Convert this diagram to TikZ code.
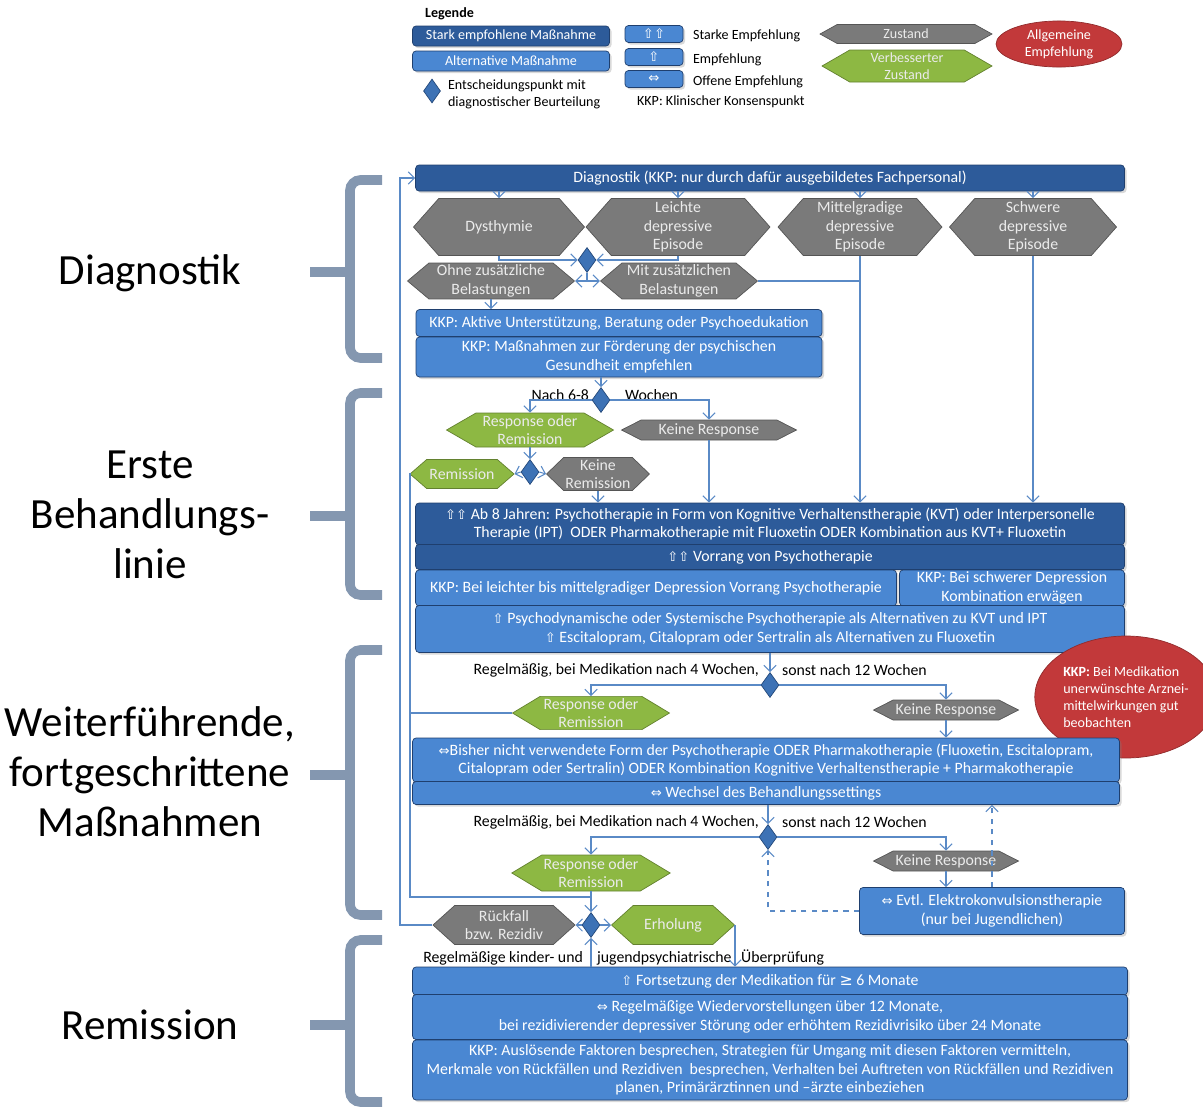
\documentclass[tikz,border=0pt]{standalone}
\usepackage{fontspec}
\setmainfont{Carlito}
\newfontfamily\symfont{DejaVu Sans}
\usetikzlibrary{shapes.geometric,shapes.symbols,arrows.meta,shadows}

\definecolor{boxdark}{HTML}{2D5B9A}
\definecolor{boxlight}{HTML}{4A87D2}
\definecolor{boxedge}{HTML}{1F3F6E}
\definecolor{stategray}{HTML}{7A7A7A}
\definecolor{stategreen}{HTML}{8DB843}
\definecolor{recred}{HTML}{C2393A}
\definecolor{decfill}{HTML}{3D72B5}
\definecolor{decedge}{HTML}{24497A}
\definecolor{flowline}{HTML}{5A8AC6}
\definecolor{bracecol}{HTML}{8497B0}

\newcommand{\boxfont}{\fontsize{9}{10.6}\selectfont}
\newcommand{\legfont}{\fontsize{8}{9.6}\selectfont}
\newcommand{\sidefont}{\fontsize{24.5}{28.4}\selectfont}
\newcommand{\symb}[1]{{\symfont\fontsize{7.5}{8}\selectfont #1}}

\tikzset{
  darkbox/.style={draw=boxedge, fill=boxdark, text=white, rounded corners=2pt,
    align=center, inner sep=1pt, font=\boxfont,
    drop shadow={opacity=0.3, shadow xshift=1.2pt, shadow yshift=-1.2pt}},
  lightbox/.style={darkbox, fill=boxlight},
  state/.style={shape=signal, signal to=west and east, signal pointer angle=90,
    draw=stategray!70!black, fill=stategray, text=white!92!black,
    align=center, inner sep=1pt, font=\boxfont},
  better/.style={state, draw=stategreen!70!black, fill=stategreen},
  recnote/.style={ellipse, draw=recred!75!black, fill=recred, text=white,
    inner sep=1pt, font=\legfont},
  decision/.style={diamond, draw=decedge, fill=decfill, inner sep=0pt,
    minimum width=0.36cm, minimum height=0.5cm},
  flow/.style={draw=flowline, line width=0.6pt, -{Straight Barb[length=3.5pt,width=7pt]}},
  plain/.style={draw=flowline, line width=0.6pt},
  note/.style={font=\boxfont, inner sep=1pt},
  legend/.style={font=\legfont},
  brace/.style={draw=bracecol, line width=5.5pt, rounded corners=6pt},
  side/.style={font=\sidefont, align=center}
}

\begin{document}
\begin{tikzpicture}[x=0.02cm, y=-0.02cm]
  \useasboundingbox (0,0) rectangle (1203,1106);

  % Legende
  \node[note, legend, anchor=west, font=\legfont\bfseries] (lgtitle) at (423,14) {Legende};
  \node[darkbox, legend, minimum width=3.94cm, minimum height=0.4cm] (lgstark) at (511,36) {Stark empfohlene Maßnahme};
  \node[lightbox, legend, minimum width=3.94cm, minimum height=0.4cm] (lgalt) at (511,61) {Alternative Maßnahme};
  \node[decision, minimum width=0.34cm, minimum height=0.48cm] (lgdec) at (432,91) {};
  \node[note, legend, anchor=west, align=left] (lgdectext) at (446,94) {Entscheidungspunkt mit\\diagnostischer Beurteilung};
  \node[lightbox, minimum width=1.16cm, minimum height=0.34cm] (lgss) at (654,34) {\symb{⇧⇧}};
  \node[lightbox, minimum width=1.16cm, minimum height=0.34cm] (lgs) at (654,57) {\symb{⇧}};
  \node[lightbox, minimum width=1.16cm, minimum height=0.34cm] (lgo) at (654,79) {\symb{⇔}};
  \node[note, legend, anchor=west] (lgsstext) at (691,36) {Starke Empfehlung};
  \node[note, legend, anchor=west] (lgstext) at (691,60) {Empfehlung};
  \node[note, legend, anchor=west] (lgotext) at (691,82) {Offene Empfehlung};
  \node[note, legend, anchor=west] (lgkkp) at (635,102) {KKP: Klinischer Konsenspunkt};
  \node[state, legend, signal pointer angle=58, minimum width=3.44cm, minimum height=0.38cm] (lgstate) at (906,34) {Zustand};
  \node[better, legend, signal pointer angle=60, minimum width=3.4cm, minimum height=0.64cm] (lgbetter) at (907,66) {Verbesserter\\Zustand};
  \node[recnote, align=center, minimum width=2.52cm, minimum height=0.84cm] (lgrec) at (1059,44) {Allgemeine\\Empfehlung};

  % Abschnitte links
  \node[side] (lbdiag) at (150,273) {Diagnostik};
  \node[side] (lberste) at (150,515) {Erste\\Behandlungs-\\linie};
  \node[side] (lbweiter) at (150,772) {Weiterführende,\\fortgeschrittene\\Maßnahmen};
  \node[side] (lbrem) at (150,1025) {Remission};
  \foreach \t/\m/\b in {180/272/358, 393/516/595, 650/775/915, 940/1025/1102} {
    \draw[brace] (382,\t) -- (350,\t) -- (350,\b) -- (382,\b);
    \draw[brace] (350,\m) -- (310,\m);
  }

  % Diagnostik
  \node[darkbox, minimum width=14.18cm, minimum height=0.52cm] (diag) at (770,178) {Diagnostik (KKP: nur durch dafür ausgebildetes Fachpersonal)};
  \node[state, signal pointer angle=97, minimum width=3.42cm, minimum height=1.14cm] (dys) at (499,227) {Dysthymie};
  \node[state, signal pointer angle=97, minimum width=3.68cm, minimum height=1.14cm] (leicht) at (678,227) {Leichte\\depressive\\Episode};
  \node[state, signal pointer angle=97, minimum width=3.28cm, minimum height=1.14cm] (mittel) at (860,227) {Mittelgradige\\depressive\\Episode};
  \node[state, signal pointer angle=97, minimum width=3.34cm, minimum height=1.14cm] (schwer) at (1033,227) {Schwere\\depressive\\Episode};
  \node[decision] (d1) at (587,260) {};
  \node[state, signal pointer angle=80, minimum width=3.34cm, minimum height=0.66cm] (ohne) at (491,281) {Ohne zusätzliche\\Belastungen};
  \node[state, signal pointer angle=80, minimum width=3.14cm, minimum height=0.66cm] (mit) at (679,281) {Mit zusätzlichen\\Belastungen};
  \node[lightbox, minimum width=8.12cm, minimum height=0.54cm] (kkp1) at (619,323) {KKP: Aktive Unterstützung, Beratung oder Psychoedukation};
  \node[lightbox, minimum width=8.12cm, minimum height=0.8cm] (kkp2) at (619,357) {KKP: Maßnahmen zur Förderung der psychischen\\Gesundheit empfehlen};

  \foreach \n in {dys,leicht,mittel,schwer}
    \draw[flow] (\n.north |- diag.south) -- (\n.north);
  \draw[flow] (dys.south) |- (d1.west);
  \draw[flow] (leicht.south) |- (d1.east);
  \draw[flow] (d1.south) |- (ohne.east);
  \draw[flow] (d1.south) |- (mit.west);
  \draw[plain] (mit.east) -- (mit.east -| mittel.south);
  \draw[flow] (ohne.south) -- (ohne.south |- kkp1.north);

  % Erste Behandlungslinie
  \node[decision] (d2) at (601,400) {};
  \node[note, anchor=east] (nach) at (591,395) {Nach 6-8};
  \node[note, anchor=west] (wochen) at (623,395) {Wochen};
  \node[better, signal pointer angle=60, minimum width=3.34cm, minimum height=0.68cm] (resp1) at (530,430) {Response oder\\Remission};
  \node[state, signal pointer angle=54, minimum width=3.5cm, minimum height=0.4cm] (kresp1) at (709,430) {Keine Response};
  \node[decision] (d3) at (530,472) {};
  \node[better, signal pointer angle=82, minimum width=2.08cm, minimum height=0.58cm] (remis) at (462,474) {Remission};
  \node[state, signal pointer angle=88, minimum width=1.96cm, minimum height=0.66cm] (kremis) at (598,474) {Keine\\Remission};

  \node[darkbox, minimum width=14.18cm, minimum height=0.84cm] (abl) at (770,524) {\symb{⇧⇧} Ab 8 Jahren: Psychotherapie in Form von Kognitive Verhaltenstherapie (KVT) oder Interpersonelle\\Therapie (IPT)\ \ ODER Pharmakotherapie mit Fluoxetin ODER Kombination aus KVT+ Fluoxetin};
  \node[darkbox, minimum width=14.18cm, minimum height=0.5cm] (vorrang) at (770,557) {\symb{⇧⇧} Vorrang von Psychotherapie};
  \node[lightbox, minimum width=9.62cm, minimum height=0.72cm] (kkpl) at (656,588) {KKP: Bei leichter bis mittelgradiger Depression Vorrang Psychotherapie};
  \node[lightbox, minimum width=4.5cm, minimum height=0.72cm] (kkps) at (1012,588) {KKP: Bei schwerer Depression\\Kombination erwägen};
  \node[lightbox, minimum width=14.18cm, minimum height=0.94cm] (alt) at (770,629) {\symb{⇧} Psychodynamische oder Systemische Psychotherapie als Alternativen zu KVT und IPT\\\symb{⇧} Escitalopram, Citalopram oder Sertralin als Alternativen zu Fluoxetin};

  \draw[flow] (d2.north |- kkp2.south) -- (d2.north);
  \draw[flow] (d2.west) -| (resp1.north);
  \draw[flow] (d2.east) -| (kresp1.north);
  \draw[flow] (resp1.south) -- (d3.north);
  \draw[flow] (d3.west) -- (remis.east);
  \draw[flow] (d3.east) -- (kremis.west);
  \draw[flow] (kremis.south) -- (kremis.south |- abl.north);
  \draw[flow] (kresp1.south) -- (kresp1.south |- abl.north);
  \draw[flow] (mittel.south) -- (mittel.south |- abl.north);
  \draw[flow] (schwer.south) -- (schwer.south |- abl.north);

  % Weiterfuehrende Massnahmen
  \node[recnote, align=left, minimum width=3.44cm, minimum height=2.44cm] (redell) at (1126,697) {\textbf{KKP:} Bei Medikation\\unerwünschte Arznei-\\mittelwirkungen gut\\beobachten};
  \node[decision] (d4) at (770,685) {};
  \node[note, anchor=east] (regel1) at (761,670) {Regelmäßig, bei Medikation nach 4 Wochen,};
  \node[note, anchor=west] (sonst1) at (780,670) {sonst nach 12 Wochen};
  \node[better, signal pointer angle=62, minimum width=3.14cm, minimum height=0.66cm] (resp2) at (591,713) {Response oder\\Remission};
  \node[state, signal pointer angle=54, minimum width=2.9cm, minimum height=0.4cm] (kresp2) at (946,710) {Keine Response};
  \node[lightbox, minimum width=14.14cm, minimum height=0.88cm] (bisher) at (766,760) {\symb{⇔}Bisher nicht verwendete Form der Psychotherapie ODER Pharmakotherapie (Fluoxetin, Escitalopram,\\Citalopram oder Sertralin) ODER Kombination Kognitive Verhaltenstherapie + Pharmakotherapie};
  \node[lightbox, minimum width=14.14cm, minimum height=0.46cm] (wechsel) at (766,793) {\symb{⇔} Wechsel des Behandlungssettings};
  \node[decision] (d5) at (768,837) {};
  \node[note, anchor=east] (regel2) at (761,822) {Regelmäßig, bei Medikation nach 4 Wochen,};
  \node[note, anchor=west] (sonst2) at (780,822) {sonst nach 12 Wochen};
  \node[better, signal pointer angle=62, minimum width=3.14cm, minimum height=0.72cm] (resp3) at (591,873) {Response oder\\Remission};
  \node[state, signal pointer angle=54, minimum width=2.9cm, minimum height=0.4cm] (kresp3) at (946,861) {Keine Response};
  \node[lightbox, minimum width=5.3cm, minimum height=0.94cm] (ekt) at (992,911) {\symb{⇔} Evtl. Elektrokonvulsionstherapie\\(nur bei Jugendlichen)};

  \draw[flow] (alt.south) -- (d4.north);
  \draw[flow] (d4.west) -| (resp2.north);
  \draw[flow] (d4.east) -| (kresp2.north);
  \draw[flow] (kresp2.south) -- (kresp2.south |- bisher.north);
  \draw[flow] (d5.north |- wechsel.south) -- (d5.north);
  \draw[flow] (d5.west) -| (resp3.north);
  \draw[flow] (d5.east) -| (kresp3.north);
  \draw[flow] (kresp3.south) -- (kresp3.south |- ekt.north);
  \draw[flow, dashed] (ekt.west) -| (d5.south);
  \draw[flow, dashed] (ekt.north) -- (ekt.north |- wechsel.south);

  % Remission
  \node[decision] (d6) at (591,925) {};
  \node[state, signal pointer angle=84, minimum width=2.84cm, minimum height=0.78cm] (rueck) at (504,925) {Rückfall\\bzw. Rezidiv};
  \node[better, signal pointer angle=84, minimum width=2.46cm, minimum height=0.78cm] (erhol) at (673,925) {Erholung};
  \node[note, anchor=east] (kontr1) at (585,958) {Regelmäßige kinder- und};
  \node[note, anchor=west] (kontr2) at (595,958) {jugendpsychiatrische};
  \node[note, anchor=west] (kontr3) at (739,958) {Überprüfung};
  \node[lightbox, minimum width=14.3cm, minimum height=0.56cm] (fort) at (770,981) {\symb{⇧}\ Fortsetzung der Medikation für {\symfont ≥} 6 Monate};
  \node[lightbox, minimum width=14.3cm, minimum height=0.9cm] (wieder) at (770,1017) {\symb{⇔} Regelmäßige Wiedervorstellungen über 12 Monate,\\bei rezidivierender\ depressiver Störung oder erhöhtem Rezidivrisiko über 24 Monate};
  \node[lightbox, minimum width=14.3cm, minimum height=1.2cm] (ausl) at (770,1070) {KKP: Auslösende Faktoren besprechen, Strategien für Umgang mit diesen Faktoren vermitteln,\\Merkmale von Rückfällen und Rezidiven\ \ besprechen, Verhalten bei Auftreten von Rückfällen und Rezidiven\\planen, Primärärztinnen und –ärzte einbeziehen};

  \coordinate (innerbot) at (410,897);
  \coordinate (loopx) at (400,925);
  \draw[plain] (remis.west) -| (innerbot) -- (innerbot -| resp3.south);
  \draw[plain] (resp2.west) -- (resp2.west -| innerbot);
  \draw[flow] (resp3.south) -- (d6.north);
  \draw[flow] (d6.west) -- (rueck.east);
  \draw[flow] (d6.east) -- (erhol.west);
  \draw[flow] (d6.south |- fort.north) -- (d6.south);
  \draw[flow] (erhol.east) -- (erhol.east |- fort.north);
  \draw[flow] (rueck.west) -- (loopx) |- (diag.west);
\end{tikzpicture}
\end{document}
